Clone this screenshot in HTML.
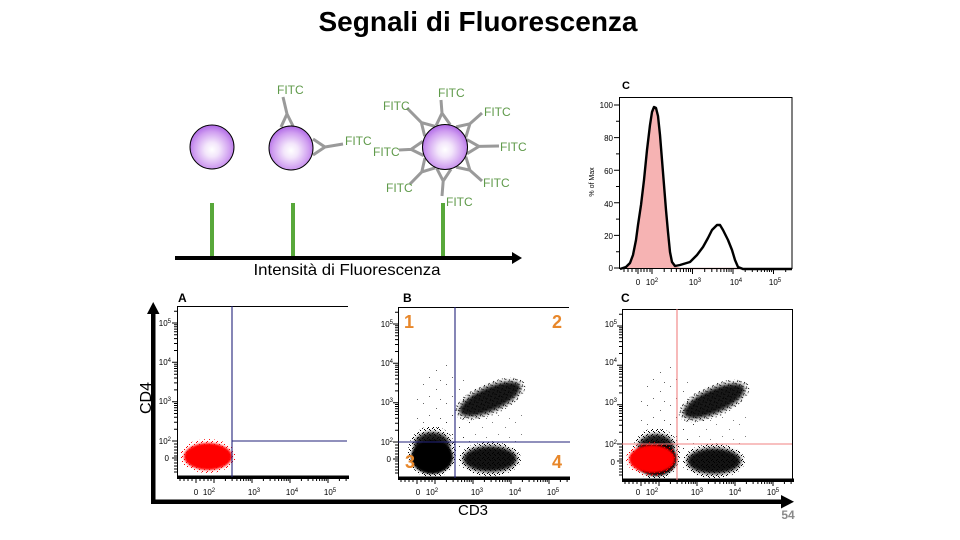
<!DOCTYPE html>
<html>
<head>
<meta charset="utf-8">
<style>
html,body{margin:0;padding:0;background:#fff;}
svg{display:block;font-family:"Liberation Sans",Arial,sans-serif;}
</style>
</head>
<body>
<svg width="960" height="540" viewBox="0 0 960 540" xmlns="http://www.w3.org/2000/svg">
<defs>
  <radialGradient id="cg" cx="0.5" cy="0.56" r="0.55">
    <stop offset="0" stop-color="#ffffff"/>
    <stop offset="0.3" stop-color="#f3e6fb"/>
    <stop offset="0.75" stop-color="#cf9df0"/>
    <stop offset="1" stop-color="#b06ae6"/>
  </radialGradient>
  <filter id="bl" x="-30%" y="-30%" width="160%" height="160%"><feGaussianBlur stdDeviation="1.1"/></filter>
  <filter id="bl2" x="-30%" y="-30%" width="160%" height="160%"><feGaussianBlur stdDeviation="1.8"/></filter>
  <pattern id="spk" width="5" height="5" patternUnits="userSpaceOnUse">
    <rect x="0" y="0" width="1" height="1" fill="#000"/>
    <rect x="2" y="3" width="1" height="1" fill="#000"/>
    <rect x="4" y="1" width="1" height="1" fill="#000"/>
    <rect x="1" y="2" width="1" height="1" fill="#000"/>
  </pattern>
  <pattern id="spr" width="23" height="19" patternUnits="userSpaceOnUse">
    <rect x="2" y="1" width="1" height="1" fill="#000"/>
    <rect x="15" y="6" width="1" height="1" fill="#000"/>
    <rect x="8" y="13" width="1" height="1" fill="#000"/>
    <rect x="19" y="16" width="1" height="1" fill="#000"/>
  </pattern>
  <pattern id="spkR" width="5" height="5" patternUnits="userSpaceOnUse">
    <rect x="0" y="0" width="1" height="1" fill="#f00"/>
    <rect x="2" y="3" width="1" height="1" fill="#f00"/>
    <rect x="4" y="1" width="1" height="1" fill="#f00"/>
  </pattern>
  <g id="ax">
    <path d="M0,0.5H171M0.5,0V171" stroke="#000" stroke-width="1" fill="none"/>
    <rect x="0" y="169.5" width="172" height="3.5" fill="#000"/>
    <path stroke="#000" stroke-width="1" fill="none" d="
M-5,17H0M-5,56.3H0M-5,95.7H0M-5,135H0M-5,152H0
M-3,5.2H0M-3,18.8H0M-3,20.8H0M-3,23.1H0M-3,25.7H0M-3,28.8H0M-3,32.6H0M-3,37.5H0M-3,44.5H0
M-3,58.2H0M-3,60.2H0M-3,62.5H0M-3,65.1H0M-3,68.2H0M-3,72H0M-3,76.9H0M-3,83.9H0
M-3,97.5H0M-3,99.5H0M-3,101.8H0M-3,104.4H0M-3,107.5H0M-3,111.3H0M-3,116.2H0M-3,123.2H0
M-3,138H0M-3,141H0M-3,144H0M-3,147H0M-3,150H0M-3,154H0M-3,157H0M-3,160H0M-3,163H0M-3,166H0
M19,172V177M37,172V177M75,172V177M113,172V177M151,172V177
M3,172V175M7,172V175M11,172V175M15,172V175M23,172V175M27,172V175M31,172V175M34,172V175
M48.4,172V175M55.1,172V175M59.9,172V175M63.6,172V175M66.6,172V175M69.1,172V175M71.3,172V175M73.2,172V175
M86.4,172V175M93.1,172V175M97.9,172V175M101.6,172V175M104.6,172V175M107.1,172V175M109.3,172V175M111.2,172V175
M124.4,172V175M131.1,172V175M135.9,172V175M139.6,172V175M142.6,172V175M145.1,172V175M147.3,172V175M149.2,172V175
M162.4,172V175M169.1,172V175"/>
  </g>
  <g id="blk">
    <ellipse cx="45" cy="110" rx="28" ry="55" fill="url(#spr)" opacity="0.6"/>
    <ellipse cx="85" cy="125" rx="45" ry="40" fill="url(#spr)" opacity="0.5"/>
    <!-- LL -->
    <ellipse cx="34" cy="145" rx="24" ry="26" fill="url(#spk)"/>
    <ellipse cx="34" cy="138" rx="18" ry="13" fill="#000" opacity="0.88" filter="url(#bl2)"/>
    <ellipse cx="34" cy="150" rx="21" ry="17" fill="#000" filter="url(#bl)"/>
    <!-- LR -->
    <ellipse cx="92" cy="152" rx="31" ry="17" fill="url(#spk)"/>
    <ellipse cx="92" cy="152" rx="27" ry="13" fill="#000" opacity="0.92" filter="url(#bl2)"/>
    <!-- UR -->
    <g transform="translate(92,92) rotate(-24)">
      <ellipse cx="0" cy="0" rx="38" ry="16" fill="url(#spk)"/>
      <ellipse cx="0" cy="0" rx="33" ry="12" fill="#000" opacity="0.9" filter="url(#bl2)"/>
    </g>
  </g>
</defs>

<text x="478" y="31" font-size="28" font-weight="bold" text-anchor="middle" textLength="319" lengthAdjust="spacingAndGlyphs">Segnali di Fluorescenza</text>

<g stroke="#9a9a9a" stroke-width="3" fill="none" stroke-linejoin="round">
  <path d="M281,127L287,114L293,126M287,114L283,97"/>
  <path d="M313,139L325,147L313,155M325,147L343,144"/>
  <path d="M436,125.8L442,113.1L450.2,124.6M442,113.1L441,100"/>
  <path d="M456.2,126.9L469.9,123.8L465.8,137.3M469.9,123.8L482,113"/>
  <path d="M466.8,139.5L479,146.4L467,153.7M479,146.4L499,146"/>
  <path d="M465.8,156.7L469.9,170.2L456.2,167.1M469.9,170.2L482,181"/>
  <path d="M451,169.2L443.2,181L436.8,168.5M443.2,181L442,196"/>
  <path d="M435.3,167.8L421.8,171.9L424.9,158.2M421.8,171.9L410,184"/>
  <path d="M423.7,155.6L411.1,149.4L422.7,141.4M411.1,149.4L399,150"/>
  <path d="M424.7,136.2L421.4,122.6L434.9,126.3M421.4,122.6L407,108"/>
</g>
<circle cx="212" cy="147" r="22" fill="url(#cg)" stroke="#000" stroke-width="1"/>
<circle cx="291" cy="148" r="22" fill="url(#cg)" stroke="#000" stroke-width="1"/>
<circle cx="445" cy="147" r="22.5" fill="url(#cg)" stroke="#000" stroke-width="1"/>
<g font-size="12" fill="#5f9a4a">
  <text x="277" y="94">FITC</text>
  <text x="345" y="145">FITC</text>
  <text x="383" y="110">FITC</text>
  <text x="438" y="97">FITC</text>
  <text x="484" y="116">FITC</text>
  <text x="500" y="151">FITC</text>
  <text x="373" y="156">FITC</text>
  <text x="483" y="187">FITC</text>
  <text x="386" y="192">FITC</text>
  <text x="446" y="206">FITC</text>
</g>
<g fill="#58a83a">
  <rect x="210" y="203" width="4" height="53"/>
  <rect x="291" y="203" width="4" height="53"/>
  <rect x="441" y="203" width="4" height="53"/>
</g>
<rect x="175" y="256" width="340" height="4" fill="#000"/>
<path d="M512,252L522,258L512,264Z" fill="#000"/>
<text x="347" y="275" font-size="16" text-anchor="middle" textLength="187" lengthAdjust="spacingAndGlyphs">Intensità di Fluorescenza</text>

<text x="622" y="89" font-size="11" font-weight="bold">C</text>
<path d="M620,269L626,267L630,263L633,255L636,240L638,225L641,205L644,180L647,150L650,125L652,112L654,107L656,108L658,116L660,135L662,160L664,185L666,210L668,232L670,252L672,262L675,266L680,268L742,268.5L742,269L620,269Z" fill="#f6b3b3"/>
<path d="M675,268.5H742" stroke="#8a1a1a" stroke-width="1.2"/>
<path d="M620,269L626,267L630,263L633,255L636,240L638,225L641,205L644,180L647,150L650,125L652,112L654,107L656,108L658,116L660,135L662,160L664,185L666,210L668,232L670,252L672,262L675,266L680,265L690,262L697,255L703,247L708,238L712,230L717,225L720,225L723,230L728,240L732,250L735,260L738,267L743,269L792,269" fill="none" stroke="#000" stroke-width="2.4" stroke-linejoin="round"/>
<rect x="619.5" y="97.5" width="172.5" height="171" fill="none" stroke="#000" stroke-width="1"/>
<path stroke="#000" stroke-width="1" fill="none" d="
M614,268H619M614,235.4H619M614,202.8H619M614,170.2H619M614,137.6H619M614,105H619
M616,251.7H619M616,219.1H619M616,186.5H619M616,153.9H619M616,121.3H619
M638,269V274M652,269V274M692.5,269V274M733,269V274M773.5,269V274
M624,269V272M628,269V272M632,269V272M636,269V272M641,269V272M644,269V272M647,269V272M650,269V272
M664.2,269V272M671.3,269V272M676.4,269V272M680.3,269V272M683.5,269V272M686.2,269V272M688.5,269V272M690.6,269V272
M704.7,269V272M711.8,269V272M716.9,269V272M720.8,269V272M724,269V272M726.7,269V272M729,269V272M731.1,269V272
M745.2,269V272M752.3,269V272M757.4,269V272M761.3,269V272M764.5,269V272M767.2,269V272M769.5,269V272M771.6,269V272
M785.7,269V272"/>
<g font-size="8" text-anchor="end">
  <text x="613" y="108">100</text>
  <text x="613" y="141">80</text>
  <text x="613" y="174">60</text>
  <text x="613" y="207">40</text>
  <text x="613" y="239">20</text>
  <text x="613" y="271">0</text>
</g>
<text transform="translate(594,182) rotate(-90)" font-size="7" text-anchor="middle">% of Max</text>
<g font-size="8" text-anchor="middle">
  <text x="638" y="285">0</text>
  <text x="652" y="285">10<tspan dy="-3" font-size="6">2</tspan></text>
  <text x="695" y="285">10<tspan dy="-3" font-size="6">3</tspan></text>
  <text x="736" y="285">10<tspan dy="-3" font-size="6">4</tspan></text>
  <text x="775" y="285">10<tspan dy="-3" font-size="6">5</tspan></text>
</g>

<rect x="151" y="310" width="4.5" height="194" fill="#000"/>
<path d="M147,314L153.2,302L159.5,314Z" fill="#000"/>
<rect x="151" y="499.5" width="632" height="4.5" fill="#000"/>
<path d="M781,495L794,501.7L781,508.5Z" fill="#000"/>
<text transform="translate(151,398) rotate(-90)" font-size="16" text-anchor="middle">CD4</text>
<text x="473" y="515" font-size="15" text-anchor="middle">CD3</text>
<text x="788" y="519" font-size="12" font-weight="bold" fill="#8a8a8a" text-anchor="middle">54</text>

<g transform="translate(177,306)">
  <ellipse cx="31" cy="150" rx="28" ry="17" fill="url(#spkR)"/>
  <ellipse cx="31" cy="150.5" rx="24" ry="13.5" fill="#f00" filter="url(#bl)"/>
  <use href="#ax"/>
  <path d="M55,0V171M55,135H170" stroke="#22227a" stroke-width="1.1" fill="none"/>
  <text x="1" y="-4" font-size="12" font-weight="bold">A</text>
  <g font-size="8" text-anchor="end">
    <text x="-6" y="20">10<tspan dy="-3" font-size="6">5</tspan></text>
    <text x="-6" y="59">10<tspan dy="-3" font-size="6">4</tspan></text>
    <text x="-6" y="98">10<tspan dy="-3" font-size="6">3</tspan></text>
    <text x="-6" y="138">10<tspan dy="-3" font-size="6">2</tspan></text>
    <text x="-8" y="155">0</text>
  </g>
  <g font-size="8" text-anchor="middle">
    <text x="19" y="189">0</text>
    <text x="32" y="189">10<tspan dy="-3" font-size="6">2</tspan></text>
    <text x="77" y="189">10<tspan dy="-3" font-size="6">3</tspan></text>
    <text x="115" y="189">10<tspan dy="-3" font-size="6">4</tspan></text>
    <text x="153" y="189">10<tspan dy="-3" font-size="6">5</tspan></text>
  </g>
</g>

<g transform="translate(398,307)">
  <use href="#blk"/>
  <use href="#ax"/>
  <path d="M57,0V171M0,135H172" stroke="#22227a" stroke-width="1.1" fill="none"/>
  <text x="5" y="-5" font-size="12" font-weight="bold">B</text>
  <g font-size="8" text-anchor="end">
    <text x="-5" y="20">10<tspan dy="-3" font-size="6">5</tspan></text>
    <text x="-5" y="59">10<tspan dy="-3" font-size="6">4</tspan></text>
    <text x="-5" y="98">10<tspan dy="-3" font-size="6">3</tspan></text>
    <text x="-5" y="138">10<tspan dy="-3" font-size="6">2</tspan></text>
    <text x="-7" y="155">0</text>
  </g>
  <g font-size="8" text-anchor="middle">
    <text x="20" y="188">0</text>
    <text x="34" y="188">10<tspan dy="-3" font-size="6">2</tspan></text>
    <text x="79" y="188">10<tspan dy="-3" font-size="6">3</tspan></text>
    <text x="117" y="188">10<tspan dy="-3" font-size="6">4</tspan></text>
    <text x="155" y="188">10<tspan dy="-3" font-size="6">5</tspan></text>
  </g>
  <g font-size="18" font-weight="bold" fill="#e8872a" text-anchor="middle">
    <text x="11" y="21">1</text>
    <text x="159" y="21">2</text>
    <text x="12" y="161">3</text>
    <text x="159" y="161">4</text>
  </g>
</g>

<g transform="translate(622,309)">
  <use href="#blk"/>
  <ellipse cx="30" cy="150" rx="26" ry="17" fill="url(#spkR)"/>
  <ellipse cx="30" cy="150" rx="23" ry="14" fill="#f00" filter="url(#bl)"/>
  <use href="#ax"/>
  <path d="M170.5,0V171" stroke="#000" stroke-width="1"/>
  <path d="M55,0V171M0,135H170" stroke="#f08080" stroke-width="1.1" fill="none"/>
  <text x="-1" y="-7" font-size="12" font-weight="bold">C</text>
  <g font-size="8" text-anchor="end">
    <text x="-5" y="18">10<tspan dy="-3" font-size="6">5</tspan></text>
    <text x="-5" y="56">10<tspan dy="-3" font-size="6">4</tspan></text>
    <text x="-5" y="96">10<tspan dy="-3" font-size="6">3</tspan></text>
    <text x="-5" y="138">10<tspan dy="-3" font-size="6">2</tspan></text>
    <text x="-7" y="156">0</text>
  </g>
  <g font-size="8" text-anchor="middle">
    <text x="16" y="186">0</text>
    <text x="30" y="186">10<tspan dy="-3" font-size="6">2</tspan></text>
    <text x="75" y="186">10<tspan dy="-3" font-size="6">3</tspan></text>
    <text x="113" y="186">10<tspan dy="-3" font-size="6">4</tspan></text>
    <text x="151" y="186">10<tspan dy="-3" font-size="6">5</tspan></text>
  </g>
</g>
</svg>
</body>
</html>
